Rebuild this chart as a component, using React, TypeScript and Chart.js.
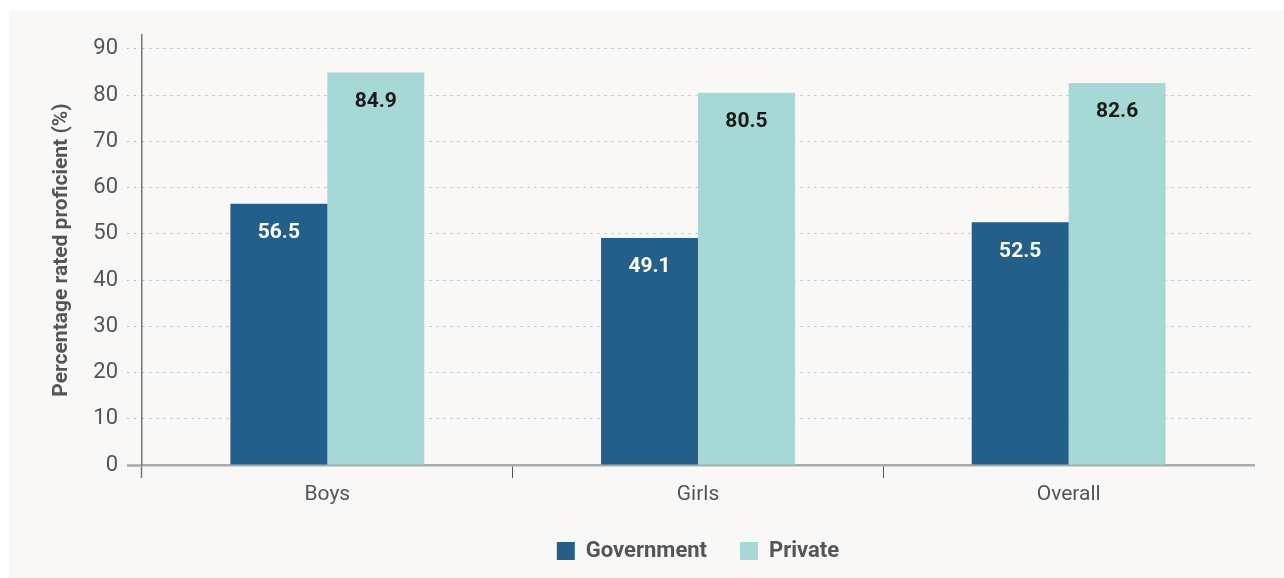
import React, { useEffect, useRef } from "react";
import { Chart, registerables } from "chart.js";

Chart.register(...registerables);

const categories = ["Boys", "Girls", "Overall"];
const governmentValues = [56.5, 49.1, 52.5];
const privateValues = [84.9, 80.5, 82.6];
const seriesNames = ["Government", "Private"];
const yTitle = "Percentage rated proficient (%)";

const FONT = "Roboto, 'Noto Sans', sans-serif";
const GRAY = "#555555";

const backgroundPlugin = {
  id: "panelBg",
  beforeDraw(chart: any) {
    const ctx = chart.ctx;
    ctx.save();
    ctx.fillStyle = "#f9f8f6";
    ctx.fillRect(9, 10, chart.width - 9, chart.height - 10);
    ctx.restore();
  },
};

const valueLabelPlugin = {
  id: "valueLabels",
  afterDatasetsDraw(chart: any) {
    const ctx = chart.ctx;
    ctx.save();
    ctx.font = `bold 21px ${FONT}`;
    ctx.textAlign = "center";
    ctx.textBaseline = "middle";
    chart.data.datasets.forEach((ds: any, di: number) => {
      const meta = chart.getDatasetMeta(di);
      ctx.fillStyle = di === 0 ? "#ffffff" : "#1a1a1a";
      meta.data.forEach((bar: any, i: number) => {
        const v = ds.data[i];
        ctx.fillText(v.toFixed(1), bar.x, bar.y + 29);
      });
    });
    ctx.restore();
  },
};

export default function App() {
  const ref = useRef<HTMLCanvasElement | null>(null);
  useEffect(() => {
    if (!ref.current) return;
    const chart = new Chart(ref.current, {
      type: "bar",
      data: {
        labels: categories,
        datasets: [
          {
            label: seriesNames[0],
            data: governmentValues,
            backgroundColor: "#245f8a",
            categoryPercentage: 0.523,
            barPercentage: 1,
          },
          {
            label: seriesNames[1],
            data: privateValues,
            backgroundColor: "#a6d8d5",
            categoryPercentage: 0.523,
            barPercentage: 1,
          },
        ],
      },
      options: {
        animation: false,
        responsive: false,
        layout: { padding: { left: 0, right: 30, top: 35, bottom: 6 } },
        plugins: {
          tooltip: { enabled: false },
          legend: {
            position: "bottom",
            fullSize: false,
            labels: {
              boxWidth: 18,
              boxHeight: 18,
              padding: 33,
              color: GRAY,
              font: { family: FONT, size: 22, weight: "bold" },
            },
          },
        },
        scales: {
          x: {
            afterFit: (s: any) => {
              s.height = 42;
            },
            grid: {
              offset: true,
              drawOnChartArea: false,
              drawTicks: true,
              tickLength: 13,
              tickColor: (c: any) =>
                c.tick === undefined || c.index === 3
                  ? "rgba(0,0,0,0)"
                  : c.index === 0
                  ? "#777777"
                  : "#555555",
              tickWidth: (c: any) => (c.index === 0 ? 1.5 : 1),
            },
            border: { display: true, color: "#aaaaaa", width: 2.5 },
            ticks: {
              color: GRAY,
              padding: 4,
              font: { family: FONT, size: 21 },
            },
          },
          y: {
            min: 0,
            max: 93,
            afterFit: (s: any) => {
              s.width = 142;
            },
            title: {
              display: true,
              text: yTitle,
              color: GRAY,
              padding: { top: 49, bottom: 0 },
              font: { family: FONT, size: 21, weight: "bold" },
            },
            ticks: {
              stepSize: 10,
              includeBounds: false,
              color: GRAY,
              padding: 9,
              font: { family: FONT, size: 22 },
            },
            grid: {
              color: "#bbbbbb",
              lineWidth: 1,
              drawTicks: true,
              tickLength: 15,
              tickColor: (c: any) => (c.index === 0 ? "#aaaaaa" : "#bbbbbb"),
              tickWidth: (c: any) => (c.index === 0 ? 2.5 : 1),
              tickBorderDash: (c: any) => (c.index === 0 ? [] : [2, 5]),
            },
            border: { display: true, color: "#777777", width: 1.5, dash: [2, 5] },
          },
        },
      },
      plugins: [backgroundPlugin, valueLabelPlugin],
    } as any);
    return () => chart.destroy();
  }, []);
  return (
    <canvas
      ref={ref}
      width={1284}
      height={578}
      style={{ position: "fixed", left: 0, top: 0, width: 1284, height: 578 }}
    />
  );
}
